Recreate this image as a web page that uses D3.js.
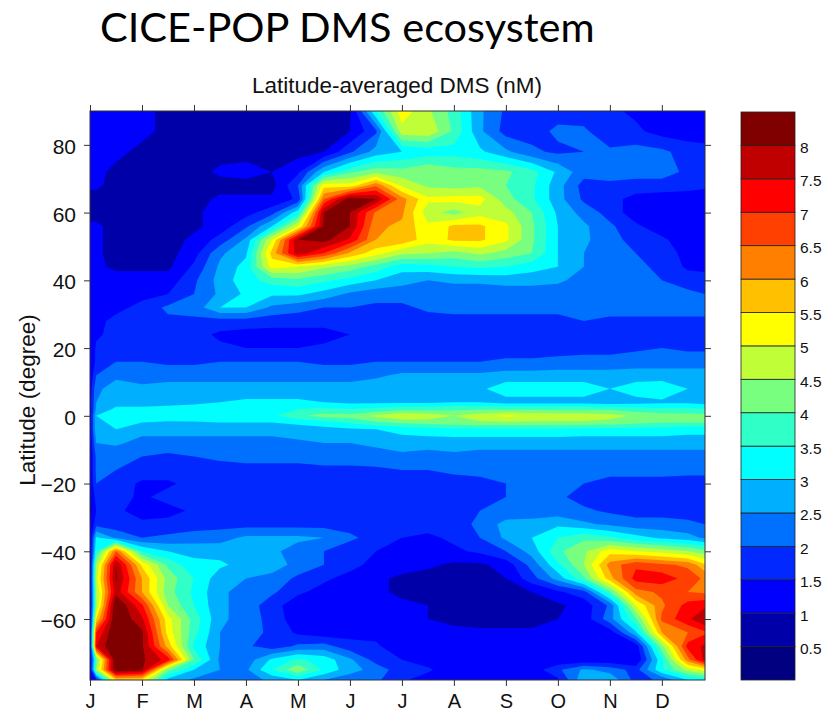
<!DOCTYPE html>
<html>
<head>
<meta charset="utf-8">
<style>
body { margin:0; background:#fff; }
text { font-family:"Liberation Sans", Arial, sans-serif; fill:#111; }
.title { font-family:Lato, sans-serif; font-size:41.5px; fill:#000; }
.axis path, .axis line { stroke:#333; }
.axis text { font-family:"Liberation Sans", Arial, sans-serif; fill:#111; }
</style>
</head>
<body>
<svg></svg>
<script src="https://d3js.org/d3.v7.min.js"></script>
<script>

var months = ["J","F","M","A","M","J","J","A","S","O","N","D"];
var yTicks = [80,60,40,20,0,-20,-40,-60];
var levels = [0.5,1,1.5,2,2.5,3,3.5,4,4.5,5,5.5,6,6.5,7,7.5,8];
var bandColors = ["#000080","#0000a8","#0000ff","#0028ff","#0070ff","#00b0ff","#00ffff","#30ffc8","#78ff80",
	"#c0ff38","#ffff00","#ffc000","#ff8000","#ff4000","#ff0000","#c00000","#800000"];

// time in months since start of year
var times = [0,0.12,0.5,1,1.5,2,2.5,3,3.5,4,4.5,5,5.5,6,6.5,7,7.5,8,8.5,9,9.5,10,10.5,11,11.5,11.83];
var lats = [90,84,78,72,68,64,60,56,52,48,44,40,36,32,28,24,20,16,12,8,4,2,0,-2,-4,-8,-12,-16,-20,-24,-28,-32,-36,-40,-44,-48,-52,-56,-60,-64,-68,-72,-75,-78];

// DMS, one row per latitude
var dms = [
[1.2,1.2,1.2,1.1,.9,.8,.8,.8,.8,.8,.8,.9,3.5,5.3,4.6,3.8,2.6,1.9,1.8,1.8,1.7,1.6,1.4,1.3,1.2,1.2],
[1.2,1.2,1.2,1.1,.9,.8,.8,.8,.8,.8,.8,1.0,1.9,4.8,4.9,3.9,2.6,1.8,1.8,2.1,2.1,1.6,1.6,1.3,1.2,1.2],
[1.1,1.1,1.1,.9,.8,.8,.8,.8,.8,.8,1.0,1.9,2.7,3.0,3.2,3.3,3.1,2.6,2.1,1.9,2.0,2.1,2.2,2.1,1.8,1.7],
[1.1,1.1,.9,.8,.8,.8,1.1,1.2,1.0,1.4,3.0,3.9,4.3,4.2,4.5,4.2,4.2,4.1,3.7,2.9,2.2,2.2,2.2,2.2,1.9,1.8],
[1.1,1.1,.8,.8,.8,.8,.8,.8,.8,2.0,5.3,5.2,6.4,4.9,4.4,4.3,4.4,4.0,3.6,2.7,1.8,1.9,1.8,1.8,1.7,1.6],
[.8,.8,.8,.8,.8,.8,1.1,1.1,1.1,1.6,6.5,8.3,8.0,6.2,5.1,5.2,5.2,4.2,3.6,2.7,1.9,1.7,1.3,1.2,1.2,1.2],
[.8,.8,.8,.8,.8,.9,1.2,1.3,1.8,3.3,8.0,8.0,6.4,6.1,4.7,4.3,4.8,4.7,4.0,2.9,2.3,1.8,1.2,1.2,1.2,1.2],
[1.1,1.1,.8,.8,.8,.9,1.2,1.9,3.0,5.0,8.1,8.0,6.1,5.9,5.1,5.6,5.6,5.1,4.1,3.0,2.6,2.1,1.6,1.2,1.2,1.2],
[1.1,1.1,.8,.8,.8,1.1,1.7,2.6,5.0,8.0,8.2,7.4,6.0,5.9,5.2,5.6,5.6,5.1,4.1,3.0,2.6,2.2,1.8,1.6,1.2,1.2],
[1.0,1.1,.8,.8,.8,1.3,2.4,2.9,5.7,7.8,7.0,5.9,5.2,4.6,4.5,4.3,4.6,4.3,4.0,3.0,2.5,2.2,2.0,1.8,1.3,1.3],
[1.0,1.1,.9,.9,.9,1.6,2.6,3.2,5.2,5.0,4.6,4.3,3.8,3.2,3.3,3.5,3.6,3.5,3.2,3.0,2.5,2.2,2.1,1.9,1.4,1.3],
[1.0,1.2,1.2,1.2,1.2,1.9,2.7,3.3,3.7,3.9,3.6,3.3,3.0,2.7,2.5,2.6,2.6,2.7,2.7,2.6,2.3,2.2,2.1,2.0,1.8,1.8],
[1.1,1.3,1.2,1.3,1.5,2.0,2.6,3.1,3.1,3.1,2.8,2.4,2.2,2.2,2.2,2.2,2.2,2.2,2.2,2.2,2.2,2.2,2.2,2.2,2.1,2.0],
[1.0,1.2,1.3,1.7,2.1,2.2,3.0,3.0,2.4,2.2,2.0,2.0,1.9,1.9,2.1,2.1,2.1,2.1,2.1,2.1,2.2,2.2,2.2,2.2,2.2,2.2],
[1.0,1.3,1.7,1.8,1.9,1.9,1.8,1.8,1.7,1.7,1.7,1.8,1.8,1.8,1.8,1.9,1.9,1.9,1.9,1.9,2.0,1.9,1.9,1.9,1.9,1.9],
[1.0,1.4,1.7,1.7,1.7,1.7,1.4,1.3,1.3,1.3,1.3,1.5,1.7,1.7,1.7,1.7,1.7,1.7,1.7,1.7,1.7,1.7,1.7,1.7,1.7,1.7],
[1.0,1.6,1.7,1.7,1.7,1.7,1.6,1.5,1.5,1.5,1.6,1.7,1.7,1.7,1.7,1.7,1.7,1.7,1.7,1.7,1.8,1.8,1.9,2.0,1.9,1.9],
[1.1,1.6,2.0,2.0,1.9,1.9,2.0,2.0,2.0,2.0,1.9,1.9,2.0,2.0,2.0,2.0,2.0,2.1,2.1,2.2,2.2,2.2,2.3,2.3,2.3,2.3],
[1.1,2.0,2.4,2.3,2.3,2.3,2.3,2.3,2.3,2.3,2.3,2.3,2.4,2.6,2.6,2.6,2.6,2.7,2.7,2.7,2.7,2.7,2.7,2.7,2.7,2.7],
[1.2,2.4,2.7,2.6,2.7,2.7,2.7,2.7,2.7,2.7,2.7,2.7,2.8,2.8,2.8,2.9,2.9,3.3,3.3,3.3,3.3,3.0,3.3,3.4,3.0,2.8],
[1.3,2.5,2.8,2.8,2.8,2.9,3.0,3.1,3.1,3.1,3.0,2.9,2.9,2.9,2.9,3.0,3.0,2.8,2.8,2.8,2.8,2.7,2.8,2.9,2.9,2.8],
[1.2,2.6,3.1,3.1,3.2,3.2,3.3,3.3,3.3,3.5,3.6,3.5,3.6,3.8,3.8,3.9,3.9,3.9,3.9,3.9,3.9,3.9,3.7,3.6,3.6,3.5],
[1.2,3.0,3.5,3.3,3.4,3.5,3.4,3.4,3.4,3.9,4.2,4.2,4.6,5.0,4.8,4.5,4.8,5.1,4.9,4.8,4.8,4.7,4.4,4.3,4.2,4.2],
[1.2,2.9,3.1,3.0,2.9,2.9,3.0,3.0,3.0,3.1,3.3,3.6,3.9,4.1,4.2,4.3,4.4,4.4,4.4,4.4,4.4,4.3,4.1,4.0,4.0,4.0],
[1.2,2.9,3.0,2.7,2.7,2.7,2.7,2.7,2.7,2.8,2.8,2.9,3.0,3.2,3.3,3.4,3.4,3.4,3.4,3.4,3.3,3.3,3.3,3.3,3.2,3.2],
[1.1,2.5,2.6,2.3,2.3,2.3,2.3,2.3,2.3,2.4,2.5,2.5,2.6,2.7,2.7,2.7,2.7,2.7,2.7,2.7,2.7,2.7,2.7,2.7,2.7,2.7],
[1.1,2.1,2.1,2.0,1.9,2.0,2.1,2.2,2.2,2.2,2.2,2.2,2.3,2.4,2.3,2.4,2.3,2.3,2.3,2.3,2.3,2.3,2.3,2.3,2.3,2.3],
[1.1,2.1,2.0,1.8,1.8,1.8,1.8,1.8,1.8,1.8,1.9,1.9,1.9,2.0,2.0,2.1,2.1,2.1,2.1,2.1,2.1,2.1,2.2,2.2,2.2,2.2],
[1.1,2.0,1.8,1.4,1.4,1.7,1.7,1.7,1.7,1.7,1.7,1.7,1.7,1.7,1.8,1.8,1.9,2.0,2.0,2.0,2.0,1.9,1.8,1.8,1.7,1.7],
[.9,1.7,1.7,1.4,1.7,1.6,1.7,1.7,1.7,1.7,1.7,1.7,1.7,1.7,1.7,1.7,1.8,2.0,2.0,2.1,1.8,1.7,1.7,1.7,1.7,1.7],
[.8,1.5,1.6,1.3,1.3,1.6,1.7,1.7,1.7,1.7,1.7,1.7,1.7,1.7,1.7,1.8,2.0,2.1,2.2,2.2,2.1,1.9,1.8,1.8,1.8,1.8],
[1.0,1.8,1.7,1.6,1.7,1.8,1.8,1.8,1.8,1.8,1.8,1.8,1.8,1.7,1.7,1.8,2.1,2.7,2.7,2.9,2.6,2.4,2.2,2.2,2.1,2.0],
[1.0,3.1,2.4,2.0,2.1,2.2,2.3,2.6,2.6,2.6,2.5,2.1,1.8,1.5,1.4,1.6,2.0,2.6,3.0,3.5,3.9,3.6,3.2,2.9,2.7,2.4],
[1.0,3.5,6.5,3.5,3.0,2.9,2.8,2.8,2.6,2.3,2.0,1.7,1.5,1.2,1.2,1.4,1.6,2.0,2.7,3.9,4.4,5.3,5.0,4.8,4.5,4.2],
[1.0,4.5,8.0,5.4,3.9,3.1,3.1,2.8,2.8,2.3,2.0,1.7,1.3,1.2,1.1,.9,.9,1.2,2.2,3.4,4.5,6.2,6.9,6.6,6.4,5.6],
[1.0,4.8,8.1,6.0,4.3,3.5,2.7,2.5,2.3,1.9,1.6,1.3,1.1,.9,.8,.8,.8,1.0,1.8,2.7,3.9,5.8,7.2,7.3,6.8,6.4],
[1.0,4.5,7.8,6.0,4.2,3.4,2.6,2.3,2.1,1.6,1.3,1.2,1.1,.9,.8,.8,.8,.8,1.0,1.4,1.8,3.9,6.3,6.6,6.5,6.4],
[1.0,4.5,8.6,7.1,4.5,3.5,2.6,2.3,1.7,1.2,1.1,1.1,1.1,1.1,1.0,.9,.8,.8,.8,.9,1.2,2.1,5.0,6.4,7.2,7.4],
[1.0,5.5,8.6,7.6,5.2,3.8,2.6,2.3,1.8,1.2,1.1,1.1,1.1,1.0,1.0,.9,.8,.8,.8,1.0,1.2,2.3,3.9,6.6,7.4,8.0],
[1.0,7.0,8.6,8.1,5.3,3.7,2.5,2.2,1.9,1.4,1.2,1.3,1.3,1.2,1.2,1.1,1.1,1.1,1.1,1.1,1.1,1.2,2.9,6.0,6.5,6.9],
[1.0,7.5,8.6,8.1,5.8,3.4,2.5,2.1,1.7,2.1,2.2,1.7,1.6,1.1,1.1,1.1,1.1,1.1,1.0,1.0,1.0,1.1,1.2,4.3,7.2,7.6],
[1.0,4.0,8.6,8.1,7.3,4.0,2.4,2.2,3.1,3.6,3.3,2.6,1.8,1.5,1.2,1.1,1.1,1.1,1.1,1.1,1.1,1.1,1.0,3.4,6.3,7.7],
[1.0,4.5,8.5,8.1,4.2,3.0,2.5,2.4,3.5,4.4,3.4,2.7,2.3,1.7,1.6,1.1,1.1,1.1,1.2,1.9,2.6,2.3,1.8,3.4,4.7,5.2],
[.8,1.5,5.5,5.4,2.8,2.4,2.2,2.3,2.6,3.0,2.5,2.2,2.1,1.6,1.2,1.0,1.0,1.1,1.1,1.4,2.9,2.9,1.8,2.1,3.0,3.2]
];

dms.forEach(function(r,i) { if(r.length!=times.length) throw "row "+i+" has "+r.length; });

var margin = {left:90, top:111, right:705, bottom:680};
var svg = d3.select("svg").attr("width",836).attr("height",721);

var x = d3.scaleLinear().domain([0,11.83]).range([margin.left,margin.right]);
var y = d3.scaleLinear().domain([90,-78]).range([margin.top,margin.bottom]);

// grid index -> data -> pixel, the latitudes are not evenly spaced
var gx = d3.scaleLinear().domain(times.map(function(d,i){return i+0.5;})).range(times.map(x)).clamp(true);
var gy = d3.scaleLinear().domain(lats.map(function(d,i){return i+0.5;})).range(lats.map(y)).clamp(true);
var path = d3.geoPath(d3.geoTransform({point:function(a,b){ this.stream.point(gx(a),gy(b)); }}));

var color = d3.scaleThreshold().domain(levels).range(bandColors);

//draw filled contours
var contours = d3.contours().size([times.length,lats.length]).thresholds(levels);
var values = d3.merge(dms);

svg.append("rect").attr("x",margin.left).attr("y",margin.top)
	.attr("width",margin.right-margin.left).attr("height",margin.bottom-margin.top)
	.attr("fill",bandColors[0]);

svg.append("g").selectAll("path").data(contours(values))
	.enter().append("path").attr("d",path)
	.attr("fill",function(c){ return color(c.value); });

//frame
svg.append("rect").attr("x",margin.left).attr("y",margin.top)
	.attr("width",margin.right-margin.left).attr("height",margin.bottom-margin.top)
	.attr("fill","none").attr("stroke","#333");

//axes
var monthPos = months.map(function(d,i){return i;});
var gb = svg.append("g").attr("class","axis").attr("transform","translate(0,"+margin.bottom+")")
	.call(d3.axisBottom(x).tickValues(monthPos).tickFormat(function(d){return months[d];}).tickSize(6).tickPadding(8));
gb.selectAll("text").style("font-size","20px");
svg.append("g").attr("class","axis").attr("transform","translate(0,"+margin.top+")")
	.call(d3.axisTop(x).tickValues(monthPos).tickFormat("").tickSize(6));
var gl = svg.append("g").attr("class","axis").attr("transform","translate("+margin.left+",0)")
	.call(d3.axisLeft(y).tickValues(yTicks).tickSize(6).tickPadding(8));
gl.selectAll("text").style("font-size","21px").attr("dy","0.4em");
svg.append("g").attr("class","axis").attr("transform","translate("+margin.right+",0)")
	.call(d3.axisRight(y).tickValues(yTicks).tickFormat("").tickSize(6));
svg.selectAll(".axis .domain").remove();

//titles
svg.append("text").attr("class","title").attr("x",100).attr("y",42).text("CICE-POP DMS ecosystem");
svg.append("text").attr("x",397).attr("y",93).attr("text-anchor","middle").style("font-size","22.5px")
	.text("Latitude-averaged DMS (nM)");
svg.append("text").attr("transform","translate(35,400) rotate(-90)").attr("text-anchor","middle")
	.style("font-size","22.5px").text("Latitude (degree)");

//colour bar
var cb = d3.scaleLinear().domain([0,8.5]).range([680,112]);
var bands = bandColors.map(function(c,i){return {c:c, lo:i*0.5, hi:(i+1)*0.5};});
svg.append("g").selectAll("rect").data(bands)
	.enter().append("rect").attr("x",741).attr("width",54)
	.attr("y",function(d){return cb(d.hi);})
	.attr("height",function(d){return cb(d.lo)-cb(d.hi);})
	.attr("fill",function(d){return d.c;})
	.attr("stroke","#222").attr("stroke-width",0.8);

var ga = svg.append("g").attr("class","axis").attr("transform","translate(795,0)")
	.call(d3.axisRight(cb).tickValues(levels).tickFormat(d3.format("")).tickSize(0).tickPadding(5));
ga.select(".domain").remove();
ga.selectAll("text").style("font-size","15.5px").attr("dy","0.45em");

</script>
</body>
</html>
